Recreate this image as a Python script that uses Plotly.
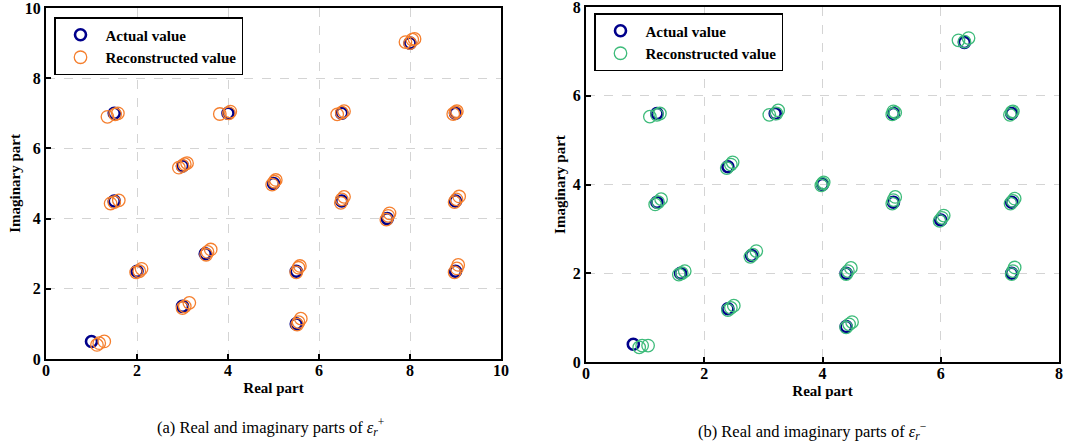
import plotly.graph_objects as go

# ---- data: panel (a) eps_r^+ ----
act_a_x = [1.5, 4, 6.5, 9, 8, 3, 5, 1.5, 6.5, 9, 7.5, 3.5, 2, 5.5, 9, 3, 5.5, 1]
act_a_y = [7, 7, 7, 7, 9, 5.5, 5, 4.5, 4.5, 4.5, 4, 3, 2.5, 2.5, 2.5, 1.5, 1, 0.5]
rec_a_x = [1.35, 1.52, 1.58, 3.82, 4.02, 4.05, 6.4, 6.5, 6.55, 8.95, 9.0, 9.03,
           7.9, 8.0, 8.05, 8.1, 2.92, 3.0, 3.05, 3.1, 4.97, 5.02, 5.05,
           1.42, 1.5, 1.6, 6.48, 6.5, 6.55, 8.98, 9.02, 9.08, 7.48, 7.52, 7.55,
           3.52, 3.55, 3.62, 1.98, 2.05, 2.1, 5.5, 5.55, 5.58, 8.98, 9.03, 9.06,
           3.0, 3.05, 3.15, 5.52, 5.55, 5.6, 1.12, 1.17, 1.28]
rec_a_y = [6.9, 6.97, 7.0, 6.98, 7.0, 7.05, 6.97, 7.02, 7.06, 6.98, 7.03, 7.06,
           9.03, 9.0, 9.1, 9.12, 5.45, 5.5, 5.55, 5.58, 4.97, 5.05, 5.1,
           4.43, 4.47, 4.52, 4.45, 4.55, 4.62, 4.47, 4.55, 4.63, 3.97, 4.08, 4.15,
           2.97, 3.05, 3.12, 2.47, 2.5, 2.57, 2.47, 2.6, 2.65, 2.47, 2.58, 2.68,
           1.45, 1.5, 1.6, 0.98, 1.05, 1.15, 0.4, 0.45, 0.5]

# ---- data: panel (b) eps_r^- ----
act_b_x = [1.2, 3.2, 5.2, 7.2, 6.4, 2.4, 4, 1.2, 5.2, 7.2, 6, 1.6, 2.8, 4.4, 7.2, 2.4, 4.4, 0.8]
act_b_y = [5.6, 5.6, 5.6, 5.6, 7.2, 4.4, 4, 3.6, 3.6, 3.6, 3.2, 2, 2.4, 2, 2, 1.2, 0.8, 0.4]
rec_b_x = [1.08, 1.2, 1.25, 3.1, 3.22, 3.25, 5.18, 5.2, 5.23, 7.17, 7.2, 7.22,
           6.3, 6.4, 6.47, 2.38, 2.45, 2.48, 3.98, 4.02, 4.0,
           1.17, 1.22, 1.27, 5.18, 5.2, 5.23, 7.18, 7.22, 7.25, 5.98, 6.02, 6.05,
           1.57, 1.62, 1.67, 2.78, 2.82, 2.88, 4.4, 4.43, 4.48, 7.2, 7.22, 7.25,
           2.4, 2.45, 2.5, 4.4, 4.45, 4.5, 0.9, 0.95, 1.05]
rec_b_y = [5.53, 5.57, 5.6, 5.57, 5.6, 5.67, 5.58, 5.65, 5.62, 5.57, 5.63, 5.65,
           7.25, 7.22, 7.3, 4.37, 4.45, 4.5, 3.98, 4.05, 4.02,
           3.55, 3.6, 3.67, 3.57, 3.65, 3.72, 3.57, 3.63, 3.68, 3.18, 3.25, 3.3,
           1.97, 2.0, 2.05, 2.37, 2.42, 2.5, 1.98, 2.05, 2.12, 1.98, 2.05, 2.13,
           1.17, 1.22, 1.27, 0.78, 0.85, 0.9, 0.33, 0.37, 0.37]

labels = ["Actual value", "Reconstructed value"]
captions = ["(a) Real and imaginary parts of <i>ε</i><sub><i>r</i></sub><sup>+</sup>",
            "(b) Real and imaginary parts of <i>ε</i><sub><i>r</i></sub><sup>−</sup>"]

NAVY = "#00008B"
ORANGE = "#F57F2E"
GREEN = "#3DBB7A"
W, H = 1069, 448
TF = "Liberation Serif"

fig = go.Figure()

def add(x, y, color, size, lw, name, xa, ya, legend):
    fig.add_trace(go.Scatter(
        x=x, y=y, mode="markers", name=name, xaxis=xa, yaxis=ya, legend=legend,
        marker=dict(symbol="circle-open", size=size, color=color,
                    line=dict(width=lw, color=color))))

add(act_a_x, act_a_y, NAVY, 11, 2.6, labels[0], "x", "y", "legend")
add(rec_a_x, rec_a_y, ORANGE, 12.5, 1.3, labels[1], "x", "y", "legend")
add(act_b_x, act_b_y, NAVY, 11, 2.6, labels[0], "x2", "y2", "legend2")
add(rec_b_x, rec_b_y, GREEN, 12.5, 1.3, labels[1], "x2", "y2", "legend2")

axis_common = dict(
    showline=True, linecolor="black", linewidth=2, mirror=True,
    ticks="inside", ticklen=5, tickwidth=2, tickcolor="black",
    showgrid=True, gridcolor="#d4d4d4", griddash="dash", gridwidth=1,
    zeroline=False, automargin=False, ticklabeloverflow="allow",
    tickfont=dict(family=TF, size=16, color="black", weight="bold"),
    title_font=dict(family=TF, size=15, color="black", weight="bold"),
)

def dom_x(a, b):
    return [a / W, b / W]

def dom_y(top, bot):
    return [1 - bot / H, 1 - top / H]

fig.update_layout(
    width=W, height=H, margin=dict(l=0, r=0, t=0, b=0),
    paper_bgcolor="white", plot_bgcolor="white", showlegend=True,
    xaxis=dict(domain=dom_x(46, 501), range=[0, 10], dtick=2, anchor="y",
               ticklabelstandoff=-4,
               title=dict(text="Real part", standoff=4), **axis_common),
    yaxis=dict(domain=dom_y(8, 359), range=[0, 10], dtick=2, anchor="x",
               title=dict(text="Imaginary part", standoff=1), **axis_common),
    xaxis2=dict(domain=dom_x(586, 1059), range=[0, 8], dtick=2, anchor="y2",
                ticklabelstandoff=-4,
                title=dict(text="Real part", standoff=4), **axis_common),
    yaxis2=dict(domain=dom_y(7, 362), range=[0, 8], dtick=2, anchor="x2",
                title=dict(text="Imaginary part", standoff=4), **axis_common),
    legend=dict(x=54 / W, y=1 - 17 / H, xanchor="left", yanchor="top",
                bordercolor="black", borderwidth=1.5, bgcolor="white",
                font=dict(family=TF, size=15, color="black", weight="bold"),
                itemwidth=40, tracegroupgap=0),
    legend2=dict(x=594 / W, y=1 - 13 / H, xanchor="left", yanchor="top",
                 bordercolor="black", borderwidth=1.5, bgcolor="white",
                 font=dict(family=TF, size=15, color="black", weight="bold"),
                 itemwidth=40, tracegroupgap=0),
    annotations=[
        dict(text=captions[0], x=270 / W, y=1 - 427 / H, xref="paper", yref="paper",
             showarrow=False, xanchor="center", yanchor="middle",
             font=dict(family=TF, size=16.5, color="black")),
        dict(text=captions[1], x=812 / W, y=1 - 431 / H, xref="paper", yref="paper",
             showarrow=False, xanchor="center", yanchor="middle",
             font=dict(family=TF, size=16.5, color="black")),
    ],
)

fig.write_html("out.html")
